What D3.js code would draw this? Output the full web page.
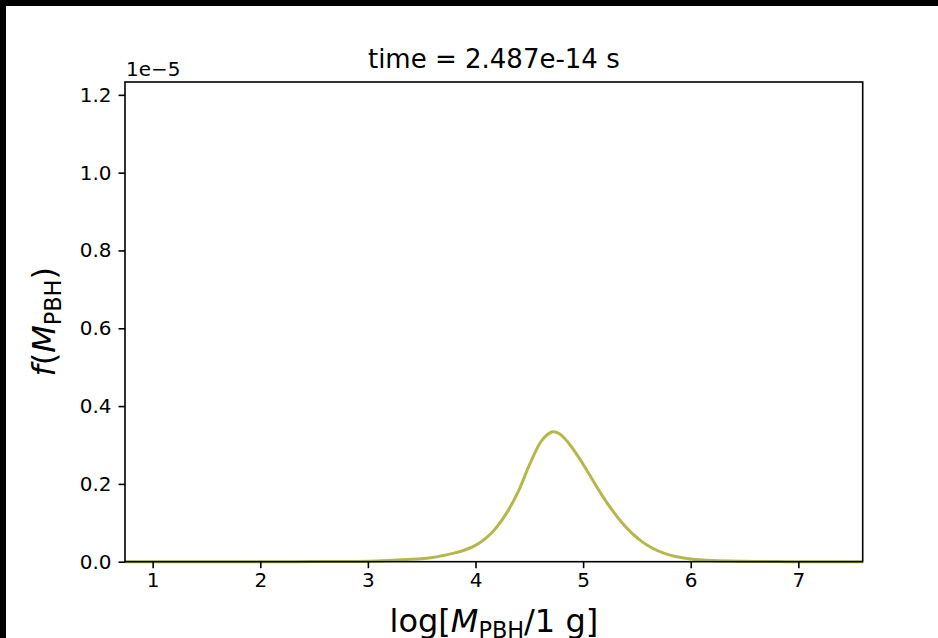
<!DOCTYPE html>
<html>
<head>
<meta charset="utf-8">
<script src="https://cdn.jsdelivr.net/npm/d3@7"></script>
<style>
  html, body { margin: 0; padding: 0; background: #000; }
  svg { display: block; }
  text { font-family: "DejaVu Sans", sans-serif; fill: #000; }
</style>
</head>
<body>
<svg id="chart" width="938" height="638"></svg>
<script>
// mass distribution (f in units of 1e-5)
var logMass = [0.74, 1.0, 2.0, 2.5, 3.0, 3.2, 3.4, 3.6, 3.7, 3.8, 3.9, 4.0, 4.1, 4.2, 4.3, 4.4, 4.5, 4.6, 4.66, 4.72, 4.78, 4.85, 4.95, 5.05, 5.15, 5.25, 5.35, 5.45, 5.55, 5.65, 5.75, 5.85, 6.0, 6.2, 6.5, 6.8, 7.0, 7.6];
var fMass =   [0, 0, 0, 0.0002, 0.001, 0.003, 0.006, 0.011, 0.016, 0.022, 0.030, 0.042, 0.061, 0.090, 0.130, 0.182, 0.248, 0.305, 0.325, 0.334, 0.329, 0.310, 0.272, 0.228, 0.182, 0.140, 0.104, 0.074, 0.051, 0.034, 0.022, 0.014, 0.007, 0.003, 0.001, 0.0002, 0, 0];
var xTicks = [1, 2, 3, 4, 5, 6, 7];
var yTicks = [0, 0.2, 0.4, 0.6, 0.8, 1.0, 1.2];
var titleText = "time = 2.487e-14 s";
var offsetText = "1e\u22125";

function draw() {
    var svg = d3.select("#chart"),
        width = +svg.attr("width"),
        height = +svg.attr("height");

    // white canvas with the black strip on top / left
    svg.append("rect")
       .attr("x", 6).attr("y", 6)
       .attr("width", width - 6).attr("height", height - 6)
       .attr("fill", "#fff");

    var left = 125, right = 862.7, top = 82, bottom = 561.7;

    var x = d3.scaleLinear().domain([0.743, 7.598]).range([left, right]),
        y = d3.scaleLinear().domain([0, 1.233]).range([bottom, top]);

    var data = logMass.map(function(m, i) { return { m: m, f: fMass[i] }; });

    var line = d3.line()
        .x(function(d) { return x(d.m); })
        .y(function(d) { return y(Math.max(0, d.f)); })
        .curve(d3.curveCatmullRom.alpha(0.5));

    svg.append("path")
       .datum(data)
       .attr("d", line)
       .attr("fill", "none")
       .attr("stroke", "#b4b84a")
       .attr("stroke-width", 3);

    var xAxis = svg.append("g")
        .attr("transform", "translate(0," + bottom + ")")
        .call(d3.axisBottom(x).tickValues(xTicks).tickFormat(d3.format("d"))
                .tickSize(6.5).tickPadding(5));
    var yAxis = svg.append("g")
        .attr("transform", "translate(" + left + ",0)")
        .call(d3.axisLeft(y).tickValues(yTicks).tickFormat(d3.format(".1f"))
                .tickSize(6.5).tickPadding(7));

    [xAxis, yAxis].forEach(function(ax) {
        ax.select(".domain").remove();
        ax.selectAll(".tick line").attr("stroke", "#000").attr("stroke-width", 1.6);
        ax.selectAll(".tick text")
          .attr("font-size", 20)
          .attr("font-family", "DejaVu Sans, sans-serif")
          .attr("fill", "#000");
    });

    // frame
    svg.append("rect")
       .attr("x", left).attr("y", top)
       .attr("width", right - left).attr("height", bottom - top)
       .attr("fill", "none")
       .attr("stroke", "#000")
       .attr("stroke-width", 1.6);

    svg.append("text")
       .attr("x", (left + right) / 2).attr("y", 68)
       .attr("text-anchor", "middle")
       .attr("font-size", 26)
       .text(titleText);

    svg.append("text")
       .attr("x", left + 1).attr("y", 76)
       .attr("font-size", 20)
       .text(offsetText);

    // x label: log[M_PBH/1 g] (cut by the bottom edge, as in the original)
    var xl = svg.append("text")
        .attr("x", (left + right) / 2).attr("y", 632)
        .attr("text-anchor", "middle")
        .attr("font-size", 32);
    xl.append("tspan").text("log[");
    xl.append("tspan").attr("font-style", "italic").text("M");
    xl.append("tspan").attr("font-size", 22.4).attr("dy", 6).text("PBH");
    xl.append("tspan").attr("dy", -6).text("/1 g]");

    // y label: f(M_PBH)
    var yl = svg.append("text")
        .attr("transform", "translate(55," + ((top + bottom) / 2) + ") rotate(-90)")
        .attr("text-anchor", "middle")
        .attr("font-size", 32);
    yl.append("tspan").attr("font-style", "italic").text("f");
    yl.append("tspan").text("(");
    yl.append("tspan").attr("font-style", "italic").text("M");
    yl.append("tspan").attr("font-size", 22.4).attr("dy", 6).text("PBH");
    yl.append("tspan").attr("dy", -6).text(")");
}

draw();
</script>
</body>
</html>
